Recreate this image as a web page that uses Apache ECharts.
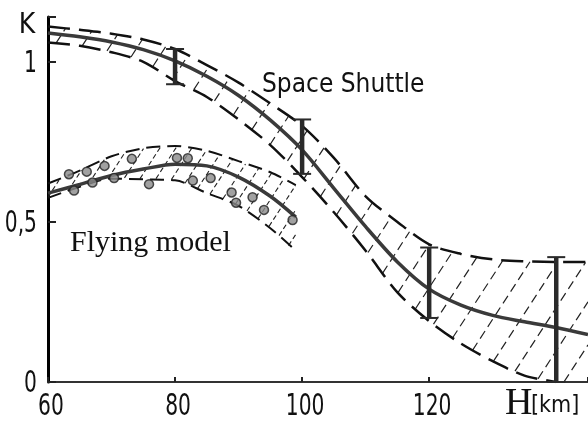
<!DOCTYPE html>
<html><head><meta charset="utf-8">
<script src="https://cdn.jsdelivr.net/npm/echarts@6/dist/echarts.min.js"></script>
<style>html,body{margin:0;padding:0;background:#fff}#c{width:588px;height:426px}</style>
</head><body><div id="c"></div>
<script>
// ---- data ----
const xTicks = [60, 80, 100, 120];
const yTicks = [0, 0.5, 1];
const yTickLabels = ['0', '0,5', '1'];

const shuttleH      = [60, 65, 70, 75, 80, 85, 90, 95, 100, 105, 110, 115, 120, 125, 130, 135, 140, 145];
const shuttleCenter = [1.09, 1.078, 1.062, 1.038, 1.003, 0.955, 0.895, 0.818, 0.725, 0.605, 0.485, 0.375, 0.29, 0.24, 0.208, 0.188, 0.17, 0.148];
const shuttleUpper  = [1.11, 1.1, 1.088, 1.07, 1.04, 0.99, 0.935, 0.87, 0.8, 0.7, 0.58, 0.5, 0.43, 0.4, 0.383, 0.377, 0.375, 0.375];
const shuttleLower  = [1.06, 1.05, 1.03, 1.0, 0.94, 0.89, 0.82, 0.74, 0.64, 0.53, 0.41, 0.28, 0.19, 0.12, 0.065, 0.02, 0, 0];

const flyH      = [60, 65, 70, 75, 80, 85, 90, 95, 99];
const flyCenter = [0.59, 0.617, 0.645, 0.665, 0.68, 0.675, 0.64, 0.58, 0.515];
const flyUpper  = [0.62, 0.66, 0.705, 0.73, 0.737, 0.722, 0.69, 0.655, 0.615];
const flyLower  = [0.575, 0.61, 0.635, 0.633, 0.63, 0.59, 0.55, 0.48, 0.41];

const dotsH = [63.3, 66.1, 68.9, 73.2, 80.3, 82.0, 64.1, 67.0, 70.4, 75.9, 82.8, 85.6, 88.9, 89.6, 92.2, 94.0, 98.5];
const dotsK = [0.649, 0.657, 0.675, 0.697, 0.70, 0.699, 0.598, 0.623, 0.637, 0.618, 0.629, 0.637, 0.592, 0.56, 0.577, 0.5375, 0.506];

const errH    = [80, 100, 120, 140];
const errLow  = [0.93, 0.65, 0.2, 0];
const errHigh = [1.04, 0.82, 0.42, 0.39];

// ---- helpers ----
const pairs = (xs, ys) => xs.map((x, i) => [x, ys[i]]);
const COND = "'DejaVu Sans Condensed','DejaVu Sans',sans-serif";
const SERIF = "'Liberation Serif','DejaVu Serif',serif";

// smooth curve value between read points (for clipping hatch lines to the band)
function curveAt(xs, ys, x) {
  let i = 0;
  while (i < xs.length - 2 && x > xs[i + 1]) i++;
  const t = Math.min(1, Math.max(0, (x - xs[i]) / (xs[i + 1] - xs[i])));
  const p0 = ys[Math.max(i - 1, 0)], p1 = ys[i], p2 = ys[i + 1], p3 = ys[Math.min(i + 2, ys.length - 1)];
  const t2 = t * t, t3 = t2 * t;
  return 0.5 * (2 * p1 + (-p0 + p2) * t + (2 * p0 - 5 * p1 + 4 * p2 - p3) * t2 + (-p0 + 3 * p1 - 3 * p2 + p3) * t3);
}

function hatchSeries(xs, lo, hi, spacing, angleDeg, dash, lw) {
  return {
    type: 'custom', silent: true, clip: true, z: 1, data: [[xs[0], lo[0]]],
    renderItem: (params, api) => {
      const k = Math.tan(angleDeg * Math.PI / 180);
      const h0 = xs[0], h1 = xs[xs.length - 1];
      const px0 = api.coord([h0, 0])[0], px1 = api.coord([h1, 0])[0];
      const samples = [];
      for (let px = px0; px <= px1; px += 0.5) {
        const h = h0 + (px - px0) / (px1 - px0) * (h1 - h0);
        const yU = api.coord([h, curveAt(xs, hi, h)])[1];
        const yL = api.coord([h, Math.max(0, curveAt(xs, lo, h))])[1];
        samples.push([px, yU, yL]);
      }
      let cMin = Infinity, cMax = -Infinity;
      samples.forEach(s => { cMin = Math.min(cMin, s[1] + k * s[0]); cMax = Math.max(cMax, s[2] + k * s[0]); });
      const children = [];
      const step = spacing * k;
      for (let c = Math.ceil(cMin / step) * step; c <= cMax; c += step) {
        let start = null, last = null;
        for (const s of samples) {
          const y = c - k * s[0];
          const inside = y >= s[1] && y <= s[2];
          if (inside) { if (!start) start = [s[0], y]; last = [s[0], y]; }
          else if (start) {
            children.push({ type: 'line', shape: { x1: start[0], y1: start[1], x2: last[0], y2: last[1] },
              style: { stroke: '#222', lineWidth: lw, lineDash: dash } });
            start = null;
          }
        }
        if (start) children.push({ type: 'line', shape: { x1: start[0], y1: start[1], x2: last[0], y2: last[1] },
          style: { stroke: '#222', lineWidth: lw, lineDash: dash } });
      }
      return { type: 'group', children };
    }
  };
}
function dashed(xs, ys, dash, w) {
  return { type: 'line', data: pairs(xs, ys), smooth: 0.3, symbol: 'none', silent: true, z: 3,
    lineStyle: { color: '#111', width: w, type: dash } };
}
function solid(xs, ys, w) {
  return { type: 'line', data: pairs(xs, ys), smooth: 0.3, symbol: 'none', silent: true, z: 4,
    lineStyle: { color: '#3a3a3a', width: w } };
}

const lowerCut = shuttleH.indexOf(140) + 1;

const chart = echarts.init(document.getElementById('c'), null, { renderer: 'canvas' });
chart.setOption({
  animation: false,
  backgroundColor: '#fff',
  grid: { left: 48, right: 0, top: 17, bottom: 44, containLabel: false, outerBoundsMode: 'none' },
  xAxis: {
    type: 'value', min: 60, max: 145, interval: 20,
    axisLine: { lineStyle: { color: '#333', width: 2 } },
    axisTick: { inside: true, length: 5, lineStyle: { color: '#222', width: 2 } },
    axisLabel: { show: false },
    splitLine: { show: false }
  },
  yAxis: {
    type: 'value', min: 0, max: 1.14, interval: 0.5,
    axisLine: { show: true, lineStyle: { color: '#000', width: 3 } },
    axisTick: { show: true, inside: true, length: 8, lineStyle: { color: '#222', width: 2 } },
    axisLabel: { show: false },
    splitLine: { show: false }
  },
  series: [
    hatchSeries(shuttleH, shuttleLower, shuttleUpper, 28, 57, [9, 5], 1.2),
    hatchSeries(flyH, flyLower, flyUpper, 16, 57, [5, 3], 1.1),
    dashed(shuttleH, shuttleUpper, [22, 9], 2.5),
    dashed(shuttleH.slice(0, lowerCut), shuttleLower.slice(0, lowerCut), [22, 9], 2.5),
    solid(shuttleH, shuttleCenter, 3.5),
    dashed(flyH, flyUpper, [14, 7], 2),
    dashed(flyH, flyLower, [14, 7], 2),
    solid(flyH, flyCenter, 3.5),
    { type: 'scatter', data: pairs(dotsH, dotsK), symbol: 'circle', symbolSize: 9, silent: true, z: 6,
      itemStyle: { color: '#8a8a8a', borderColor: '#222', borderWidth: 1.5 } },
    { type: 'custom', silent: true, z: 7,
      data: errH.map((h, i) => [h, errLow[i], errHigh[i]]),
      renderItem: (params, api) => {
        const a = api.coord([api.value(0), api.value(1)]);
        const b = api.coord([api.value(0), api.value(2)]);
        const st = { stroke: '#2a2a2a', lineWidth: 2 };
        return { type: 'group', children: [
          { type: 'line', shape: { x1: a[0], y1: a[1], x2: b[0], y2: b[1] }, style: { stroke: '#2a2a2a', lineWidth: 4.5 } },
          { type: 'line', shape: { x1: a[0] - 9, y1: a[1], x2: a[0] + 9, y2: a[1] }, style: st },
          { type: 'line', shape: { x1: b[0] - 9, y1: b[1], x2: b[0] + 9, y2: b[1] }, style: st }
        ] };
      } },
    // x tick labels (narrow lettering)
    { type: 'custom', silent: true, clip: false, z: 8,
      data: xTicks.map(v => [v, 0]),
      renderItem: (params, api) => {
        const c = api.coord([api.value(0), 0]);
        return { type: 'text', x: c[0] + 3, y: c[1] + 25, scaleX: 0.75,
          style: { text: String(api.value(0)), font: '30px ' + COND, fill: '#111', textAlign: 'center', textVerticalAlign: 'middle' } };
      } },
    // y tick labels
    { type: 'custom', silent: true, clip: false, z: 8,
      data: yTicks.map((v, i) => [60, v, i]),
      renderItem: (params, api) => {
        const c = api.coord([api.value(0), api.value(1)]);
        return { type: 'text', x: c[0] - 11, y: c[1] + 2, scaleX: 0.75,
          style: { text: yTickLabels[api.value(2)], font: '30px ' + COND, fill: '#111', textAlign: 'right', textVerticalAlign: 'middle' } };
      } }
  ],
  graphic: [
    { type: 'text', x: 27, y: 26, style: { text: 'K', font: "28px " + COND, fill: '#111', textAlign: 'center', textVerticalAlign: 'middle' } },
    { type: 'text', x: 262, y: 85, style: { text: 'Space Shuttle', font: "26px " + COND, fill: '#111', textAlign: 'left', textVerticalAlign: 'middle' } },
    { type: 'text', x: 70, y: 243, style: { text: 'Flying model', font: "30px " + SERIF, fill: '#111', textAlign: 'left', textVerticalAlign: 'middle' } },
    { type: 'text', x: 505, y: 404, style: { text: 'H', font: "38px " + SERIF, fill: '#111', textAlign: 'left', textVerticalAlign: 'middle' } },
    { type: 'text', x: 531, y: 406, style: { text: '[km]', font: "23px " + COND, fill: '#111', textAlign: 'left', textVerticalAlign: 'middle' } }
  ]
});
</script>
</body></html>
